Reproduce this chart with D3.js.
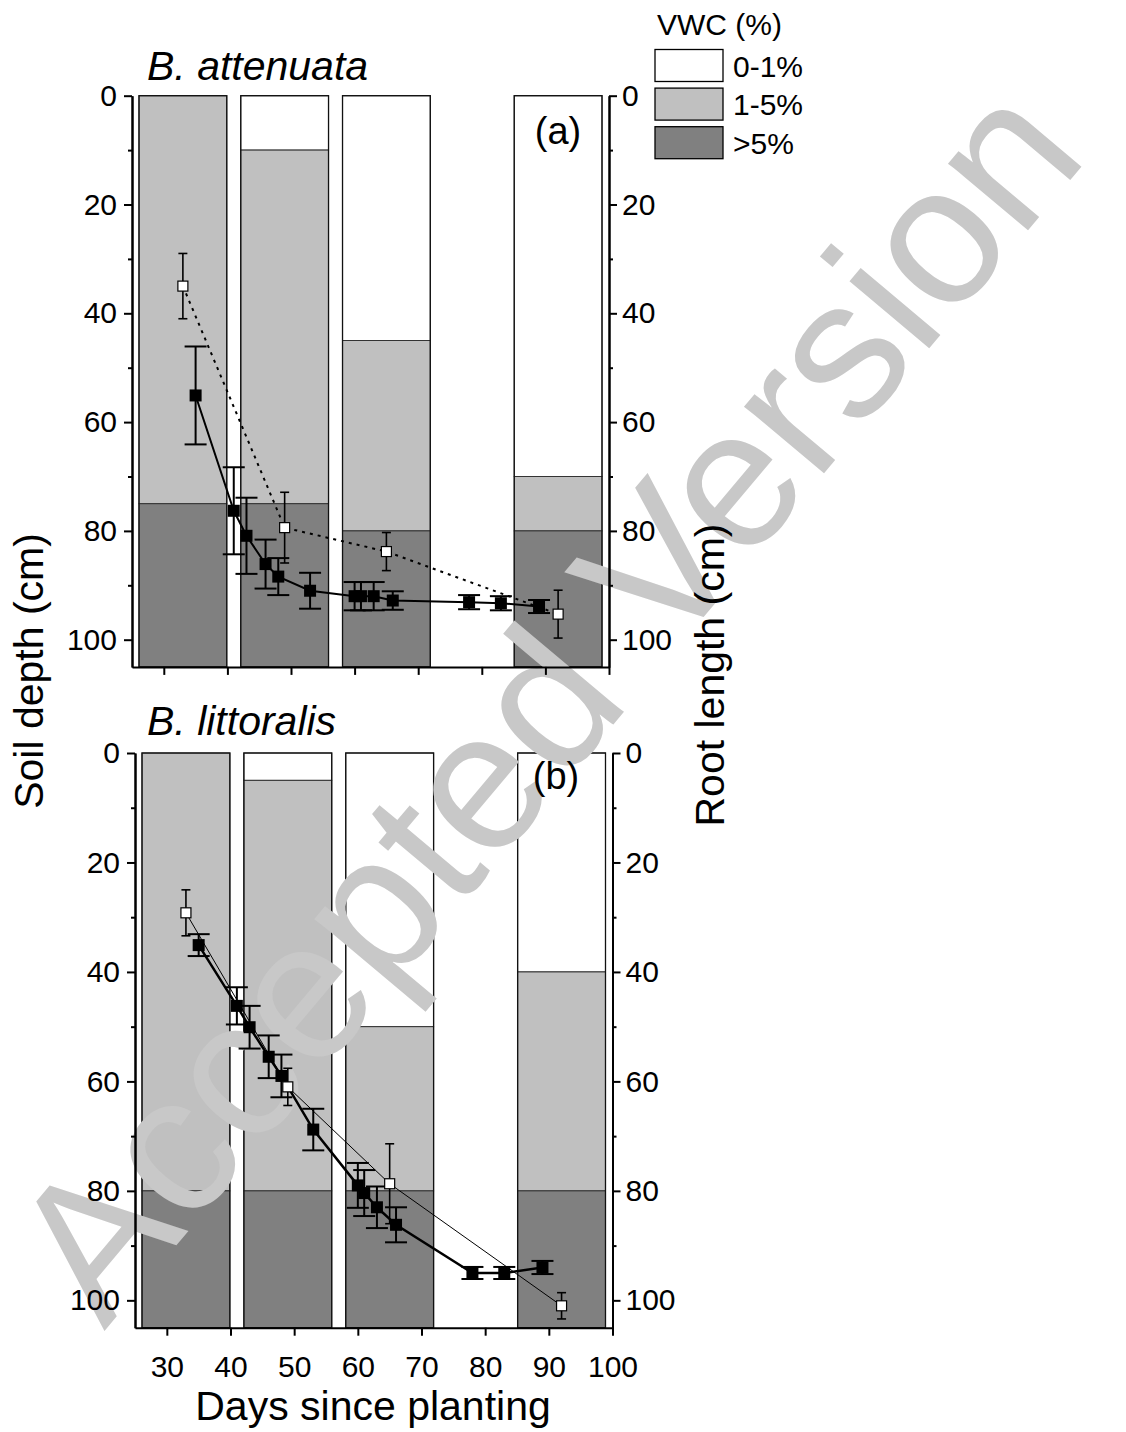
<!DOCTYPE html>
<html>
<head>
<meta charset="utf-8">
<script src="https://cdn.jsdelivr.net/npm/d3@7"></script>
<style>
body { margin: 0; background: #fff; }
svg text { font-family: "Liberation Sans", Arial, sans-serif; }
</style>
</head>
<body>
<div id="chart"></div>
<script>
// VWC bars, one per sampling day; depth (cm) where each class ends
var barDays = [33, 49, 65, 92];
var dryEndA = [0, 10, 45, 70];      // 0-1% from 0 down to here
var moistStartA = [75, 75, 80, 80]; // >5% from here to the bottom
var dryEndB = [0, 5, 50, 40];
var moistStartB = [80, 80, 80, 80];

// black squares (solid line)
var rootDays = [35, 41, 43, 46, 48, 53, 60, 61, 63, 66, 78, 83, 89];
var rootA = [55.1, 76.3, 80.9, 86.1, 88.4, 91.0, 92.0, 92.0, 92.0, 92.8, 93.1, 93.3, 93.9];
var rootErrA = [9.0, 8.0, 7.0, 4.5, 3.4, 3.3, 2.6, 2.6, 2.6, 1.7, 1.3, 1.3, 1.2];
var rootB = [35.1, 46.2, 50.1, 55.5, 59.0, 68.8, 79.0, 80.4, 83.0, 86.2, 95.0, 95.0, 94.0];
var rootErrB = [2.0, 3.4, 3.9, 3.9, 3.9, 3.8, 4.1, 4.2, 3.8, 3.2, 1.1, 1.1, 1.2];

// white squares
var frontDays = [33, 49, 65, 92];
var frontA = [35.0, 79.4, 83.8, 95.3];
var frontErrA = [6.0, 6.5, 3.5, 4.4];
var frontB = [29.2, 61.0, 78.7, 101.0];
var frontErrB = [4.2, 3.4, 7.3, 2.4];

var xTicks = [30, 40, 50, 60, 70, 80, 90, 100];
var yTicks = [0, 20, 40, 60, 80, 100];
var yMinor = [10, 30, 50, 70, 90];

var vwcClasses = ["0-1%", "1-5%", ">5%"];
var vwcColors = ["#ffffff", "#c0c0c0", "#808080"];

var barWidth = 13.8;
var maxDepth = 105;

var svg = d3.select("#chart").append("svg")
    .attr("width", 1126)
    .attr("height", 1432);

var barLayer = svg.append("g");
var wmLayer = svg.append("g");
var markLayer = svg.append("g");

var panels = [
    {title: "B. attenuata", tag: "(a)", left: 132, right: 609, top: 95.7, bottom: 666.9,
     dryEnd: dryEndA, moistStart: moistStartA, root: rootA, rootErr: rootErrA,
     front: frontA, frontErr: frontErrA, dash: "3,5", frontW: 2, rootW: 2, xLabels: false,
     titleY: 80, tagX: 558, tagY: 144},
    {title: "B. littoralis", tag: "(b)", left: 135, right: 612.5, top: 753, bottom: 1327.7,
     dryEnd: dryEndB, moistStart: moistStartB, root: rootB, rootErr: rootErrB,
     front: frontB, frontErr: frontErrB, dash: null, frontW: 1, rootW: 2.5, xLabels: true,
     titleY: 735, tagX: 556, tagY: 789}
];

function styleAxis(g) {
    g.selectAll("path").attr("stroke", "#000").attr("stroke-width", 2);
    g.selectAll("line").attr("stroke", "#000").attr("stroke-width", 2);
    g.selectAll("text").attr("fill", "#000")
        .style("font-size", "30px")
        .style("font-family", "'Liberation Sans', Arial, sans-serif");
}

panels.forEach(function(p) {
    var x = d3.scaleLinear().domain([25, 100]).range([p.left, p.right]);
    var y = d3.scaleLinear().domain([0, maxDepth]).range([p.top, p.bottom]);

    // stacked VWC columns
    barDays.forEach(function(d, i) {
        var segs = [
            {from: 0, to: p.dryEnd[i], c: 0},
            {from: p.dryEnd[i], to: p.moistStart[i], c: 1},
            {from: p.moistStart[i], to: maxDepth, c: 2}
        ].filter(function(s) { return s.to > s.from; });

        var bg = barLayer.append("g");
        bg.selectAll("rect.seg")
            .data(segs)
            .enter().append("rect")
                .attr("class", "seg")
                .attr("x", x(d - barWidth / 2))
                .attr("y", function(s) { return y(s.from); })
                .attr("width", x(d + barWidth / 2) - x(d - barWidth / 2))
                .attr("height", function(s) { return y(s.to) - y(s.from); })
                .attr("fill", function(s) { return vwcColors[s.c]; })
                .attr("stroke", "#333")
                .attr("stroke-width", 1);
        bg.append("rect")
            .attr("x", x(d - barWidth / 2))
            .attr("y", y(0))
            .attr("width", x(d + barWidth / 2) - x(d - barWidth / 2))
            .attr("height", y(maxDepth) - y(0))
            .attr("fill", "none")
            .attr("stroke", "#111")
            .attr("stroke-width", 1.3);
    });

    var g = markLayer.append("g");

    var rootPts = rootDays.map(function(d, i) { return {x: d, y: p.root[i], e: p.rootErr[i]}; });
    var frontPts = frontDays.map(function(d, i) { return {x: d, y: p.front[i], e: p.frontErr[i]}; });

    var line = d3.line().x(function(d) { return x(d.x); }).y(function(d) { return y(d.y); });

    g.append("path")
        .datum(rootPts)
        .attr("d", line)
        .attr("fill", "none")
        .attr("stroke", "#000")
        .attr("stroke-width", p.rootW);

    g.append("path")
        .datum(frontPts)
        .attr("d", line)
        .attr("fill", "none")
        .attr("stroke", "#000")
        .attr("stroke-width", p.frontW)
        .attr("stroke-dasharray", p.dash);

    function errorBars(pts, cap, sw) {
        var eb = g.append("g").attr("stroke", "#000").attr("stroke-width", sw);
        var sel = eb.selectAll("g").data(pts).enter().append("g");
        sel.append("line")
            .attr("x1", function(d) { return x(d.x); })
            .attr("x2", function(d) { return x(d.x); })
            .attr("y1", function(d) { return y(d.y - d.e); })
            .attr("y2", function(d) { return y(d.y + d.e); });
        sel.append("line")
            .attr("x1", function(d) { return x(d.x) - cap / 2; })
            .attr("x2", function(d) { return x(d.x) + cap / 2; })
            .attr("y1", function(d) { return y(d.y - d.e); })
            .attr("y2", function(d) { return y(d.y - d.e); });
        sel.append("line")
            .attr("x1", function(d) { return x(d.x) - cap / 2; })
            .attr("x2", function(d) { return x(d.x) + cap / 2; })
            .attr("y1", function(d) { return y(d.y + d.e); })
            .attr("y2", function(d) { return y(d.y + d.e); });
    }

    errorBars(rootPts, 22, 2);
    g.selectAll("rect.root")
        .data(rootPts)
        .enter().append("rect")
            .attr("class", "root")
            .attr("x", function(d) { return x(d.x) - 6; })
            .attr("y", function(d) { return y(d.y) - 6; })
            .attr("width", 12)
            .attr("height", 12)
            .attr("fill", "#000");

    errorBars(frontPts, 9, 1.6);
    g.selectAll("rect.front")
        .data(frontPts)
        .enter().append("rect")
            .attr("class", "front")
            .attr("x", function(d) { return x(d.x) - 5; })
            .attr("y", function(d) { return y(d.y) - 5; })
            .attr("width", 10)
            .attr("height", 10)
            .attr("fill", "#fff")
            .attr("stroke", "#000")
            .attr("stroke-width", 1.2);

    // axes
    var leftMajor = g.append("g").attr("transform", "translate(" + x(25) + ",0)")
        .call(d3.axisLeft(y).tickValues(yTicks).tickSize(8).tickPadding(7).tickSizeOuter(0));
    var leftMinor = g.append("g").attr("transform", "translate(" + x(25) + ",0)")
        .call(d3.axisLeft(y).tickValues(yMinor).tickSize(4).tickFormat("").tickSizeOuter(0));
    var rightMajor = g.append("g").attr("transform", "translate(" + x(100) + ",0)")
        .call(d3.axisRight(y).tickValues(yTicks).tickSize(8).tickPadding(5).tickSizeOuter(0));
    var rightMinor = g.append("g").attr("transform", "translate(" + x(100) + ",0)")
        .call(d3.axisRight(y).tickValues(yMinor).tickSize(4).tickFormat("").tickSizeOuter(0));
    var xAxis = d3.axisBottom(x).tickValues(xTicks).tickSize(8).tickPadding(20).tickSizeOuter(0);
    if (!p.xLabels) xAxis.tickFormat("");
    var bottomAxis = g.append("g").attr("transform", "translate(0," + y(maxDepth) + ")")
        .call(xAxis);
    [leftMajor, leftMinor, rightMajor, rightMinor, bottomAxis].forEach(styleAxis);

    g.append("text")
        .attr("x", 147)
        .attr("y", p.titleY)
        .attr("font-size", 41)
        .attr("font-style", "italic")
        .text(p.title);

    g.append("text")
        .attr("x", p.tagX)
        .attr("y", p.tagY)
        .attr("text-anchor", "middle")
        .attr("font-size", 38)
        .text(p.tag);
});

// watermark
wmLayer.append("text")
    .attr("transform", "translate(597,744) rotate(-50)")
    .attr("text-anchor", "middle")
    .attr("font-size", 197)
    .attr("fill", "#c8c8c8")
    .text("Accepted Version");

// axis titles
markLayer.append("text")
    .attr("transform", "translate(43,671) rotate(-90)")
    .attr("text-anchor", "middle")
    .attr("font-size", 41)
    .text("Soil depth (cm)");

markLayer.append("text")
    .attr("transform", "translate(724,675) rotate(-90)")
    .attr("text-anchor", "middle")
    .attr("font-size", 41)
    .text("Root length (cm)");

markLayer.append("text")
    .attr("x", 373)
    .attr("y", 1420)
    .attr("text-anchor", "middle")
    .attr("font-size", 41)
    .text("Days since planting");

// legend
var legend = markLayer.append("g");
legend.append("text")
    .attr("x", 657)
    .attr("y", 35)
    .attr("font-size", 30)
    .text("VWC (%)");
var items = legend.selectAll("g.item")
    .data(vwcClasses)
    .enter().append("g")
        .attr("class", "item")
        .attr("transform", function(d, i) { return "translate(655," + (49.5 + i * 38.6) + ")"; });
items.append("rect")
    .attr("width", 68)
    .attr("height", 32)
    .attr("fill", function(d, i) { return vwcColors[i]; })
    .attr("stroke", "#000")
    .attr("stroke-width", 1.3);
items.append("text")
    .attr("x", 78)
    .attr("y", 27)
    .attr("font-size", 30)
    .text(function(d) { return d; });
</script>
</body>
</html>
